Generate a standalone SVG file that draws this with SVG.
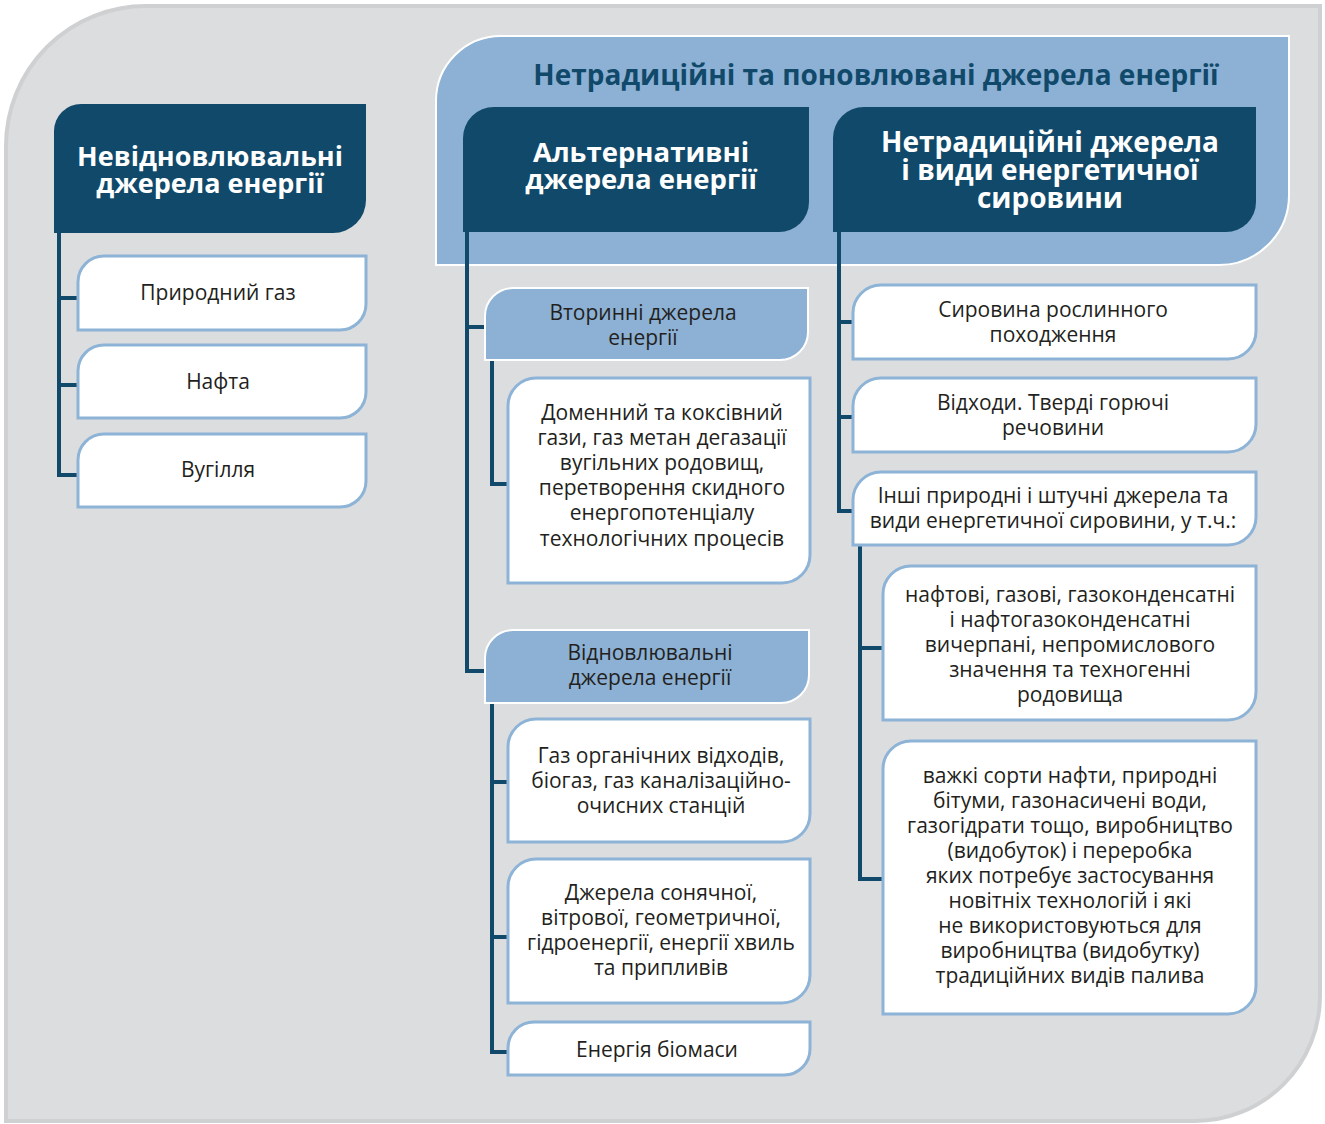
<svg xmlns="http://www.w3.org/2000/svg" width="1325" height="1124" viewBox="0 0 1325 1124">
<style>
.bg{fill:#dcdddf;stroke:#cfd0d2;stroke-width:4}
.panel{fill:#8cb1d4;stroke:#ffffff;stroke-width:2}
.hdr{fill:#11496a}
.sub{fill:#8cb1d4;stroke:#ffffff;stroke-width:2}
.box{fill:#ffffff;stroke:#8db3d7;stroke-width:3}
.ln{fill:none;stroke:#11496a;stroke-width:4;stroke-linejoin:miter}
.ht{font-family:"Open Sans","Noto Sans",sans-serif;font-weight:700;font-size:28px;fill:#ffffff;text-anchor:middle}
.tt{font-family:"Open Sans","Noto Sans",sans-serif;font-weight:700;font-size:28px;fill:#11496a;text-anchor:middle}
.t{font-family:"Open Sans","Noto Sans",sans-serif;font-size:21px;fill:#231f20;text-anchor:middle}
</style>
<path class="bg" d="M6,146 A140,140 0 0 1 146,6 H1320 V996 A125,125 0 0 1 1195,1121 H6 Z"/>
<g id="panel">
<path class="panel" d="M436,101 A65,65 0 0 1 501,36 H1289 V195 A70,70 0 0 1 1219,265 H436 Z"/>
<text class="tt" x="876" y="85">Нетрадиційні та поновлювані джерела енергії</text>
</g>
<g id="connectors">
<path class="ln" d="M59,233 V475 H78 M57,298 H78 M57,385 H78"/>
<path class="ln" d="M467,232 V671 H485 M465,327 H485"/>
<path class="ln" d="M492,360 V484 H508"/>
<path class="ln" d="M492,703 V1052 H508 M490,782 H508 M490,937 H508"/>
<path class="ln" d="M839,232 V511 H853 M837,322 H853 M837,417 H853"/>
<path class="ln" d="M860,545 V879 H883 M858,648 H883"/>
</g>
<g id="h-nonrenew">
<path class="hdr" d="M54,131 A27,27 0 0 1 81,104 H366 V200 A33,33 0 0 1 333,233 H54 Z"/>
<text class="ht" style="font-size:27px"><tspan x="210" y="166">Невідновлювальні</tspan><tspan x="210" y="193">джерела енергії</tspan></text>
</g>
<g id="n-gas">
<path class="box" d="M78,282 A26,26 0 0 1 104,256 H366 V304 A26,26 0 0 1 340,330 H78 Z"/>
<text class="t" x="218" y="300">Природний газ</text>
</g>
<g id="n-oil">
<path class="box" d="M78,371 A26,26 0 0 1 104,345 H366 V392 A26,26 0 0 1 340,418 H78 Z"/>
<text class="t" x="218" y="389">Нафта</text>
</g>
<g id="n-coal">
<path class="box" d="M78,460 A26,26 0 0 1 104,434 H366 V481 A26,26 0 0 1 340,507 H78 Z"/>
<text class="t" x="218" y="477">Вугілля</text>
</g>
<g id="h-alt">
<path class="hdr" d="M463,138 A31,31 0 0 1 494,107 H809 V202 A30,30 0 0 1 779,232 H463 Z"/>
<text class="ht" style="font-size:27.5px"><tspan x="641" y="162">Альтернативні</tspan><tspan x="641" y="189">джерела енергії</tspan></text>
</g>
<g id="h-nontrad">
<path class="hdr" d="M833,138 A31,31 0 0 1 864,107 H1256 V202 A30,30 0 0 1 1226,232 H833 Z"/>
<text class="ht"><tspan x="1050" y="152">Нетрадиційні джерела</tspan><tspan x="1050" y="180">і види енергетичної</tspan><tspan x="1050" y="208">сировини</tspan></text>
</g>
<g id="s-secondary">
<path class="sub" d="M485,316 A28,28 0 0 1 513,288 H808 V332 A28,28 0 0 1 780,360 H485 Z"/>
<text class="t"><tspan x="643" y="320">Вторинні джерела</tspan><tspan x="643" y="345">енергії</tspan></text>
</g>
<g id="n-domain">
<path class="box" d="M508,406 A28,28 0 0 1 536,378 H810 V555 A28,28 0 0 1 782,583 H508 Z"/>
<text class="t"><tspan x="662" y="420">Доменний та коксівний</tspan><tspan x="662" y="445">гази, газ метан дегазації</tspan><tspan x="662" y="470">вугільних родовищ,</tspan><tspan x="662" y="495">перетворення скидного</tspan><tspan x="662" y="520">енергопотенціалу</tspan><tspan x="662" y="546">технологічних процесів</tspan></text>
</g>
<g id="s-renew">
<path class="sub" d="M485,658 A28,28 0 0 1 513,630 H809 V675 A28,28 0 0 1 781,703 H485 Z"/>
<text class="t"><tspan x="650" y="660">Відновлювальні</tspan><tspan x="650" y="685">джерела енергії</tspan></text>
</g>
<g id="n-biogas">
<path class="box" d="M508,747 A28,28 0 0 1 536,719 H810 V814 A28,28 0 0 1 782,842 H508 Z"/>
<text class="t"><tspan x="661" y="763">Газ органічних відходів,</tspan><tspan x="661" y="788">біогаз, газ каналізаційно-</tspan><tspan x="661" y="813">очисних станцій</tspan></text>
</g>
<g id="n-solar">
<path class="box" d="M508,887 A28,28 0 0 1 536,859 H810 V975 A28,28 0 0 1 782,1003 H508 Z"/>
<text class="t"><tspan x="661" y="900">Джерела сонячної,</tspan><tspan x="661" y="925">вітрової, геометричної,</tspan><tspan x="661" y="950">гідроенергії, енергії хвиль</tspan><tspan x="661" y="975">та припливів</tspan></text>
</g>
<g id="n-biomass">
<path class="box" d="M508,1048 A26,26 0 0 1 534,1022 H810 V1049 A26,26 0 0 1 784,1075 H508 Z"/>
<text class="t" x="657" y="1057">Енергія біомаси</text>
</g>
<g id="n-plant">
<path class="box" d="M853,313 A28,28 0 0 1 881,285 H1256 V331 A28,28 0 0 1 1228,359 H853 Z"/>
<text class="t"><tspan x="1053" y="317">Сировина рослинного</tspan><tspan x="1053" y="342">походження</tspan></text>
</g>
<g id="n-waste">
<path class="box" d="M853,406 A28,28 0 0 1 881,378 H1256 V424 A28,28 0 0 1 1228,452 H853 Z"/>
<text class="t"><tspan x="1053" y="410">Відходи. Тверді горючі</tspan><tspan x="1053" y="435">речовини</tspan></text>
</g>
<g id="n-other">
<path class="box" d="M853,500 A28,28 0 0 1 881,472 H1256 V517 A28,28 0 0 1 1228,545 H853 Z"/>
<text class="t"><tspan x="1053" y="503">Інші природні і штучні джерела та</tspan><tspan x="1053" y="528">види енергетичної сировини, у т.ч.:</tspan></text>
</g>
<g id="n-fields">
<path class="box" d="M883,594 A28,28 0 0 1 911,566 H1256 V692 A28,28 0 0 1 1228,720 H883 Z"/>
<text class="t"><tspan x="1070" y="602">нафтові, газові, газоконденсатні</tspan><tspan x="1070" y="627">і нафтогазоконденсатні</tspan><tspan x="1070" y="652">вичерпані, непромислового</tspan><tspan x="1070" y="677">значення та техногенні</tspan><tspan x="1070" y="702">родовища</tspan></text>
</g>
<g id="n-heavy">
<path class="box" d="M883,769 A28,28 0 0 1 911,741 H1256 V986 A28,28 0 0 1 1228,1014 H883 Z"/>
<text class="t"><tspan x="1070" y="783">важкі сорти нафти, природні</tspan><tspan x="1070" y="808">бітуми, газонасичені води,</tspan><tspan x="1070" y="833">газогідрати тощо, виробництво</tspan><tspan x="1070" y="858">(видобуток) і переробка</tspan><tspan x="1070" y="883">яких потребує застосування</tspan><tspan x="1070" y="908">новітніх технологій і які</tspan><tspan x="1070" y="933">не використовуються для</tspan><tspan x="1070" y="958">виробництва (видобутку)</tspan><tspan x="1070" y="983">традиційних видів палива</tspan></text>
</g>
</svg>
